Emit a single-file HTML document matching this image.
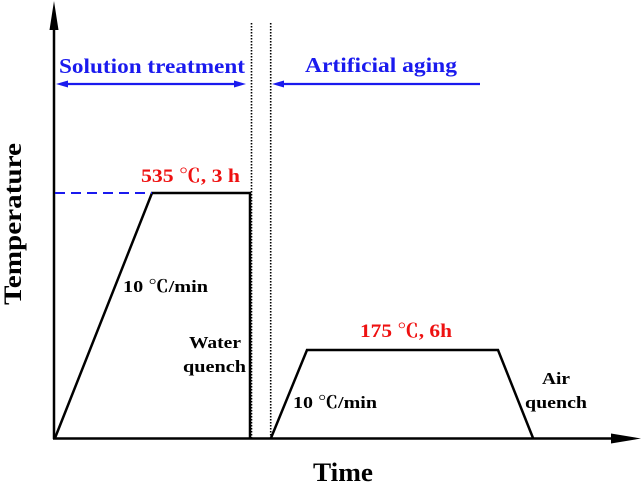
<!DOCTYPE html>
<html><head><meta charset="utf-8"><style>
html,body{margin:0;padding:0;background:#fff;}
svg{display:block;}
</style></head><body>
<svg width="641" height="483" viewBox="0 0 641 483" xmlns="http://www.w3.org/2000/svg" font-family="'Liberation Serif', 'Noto Serif CJK SC', serif" font-weight="bold">
<!-- axes -->
<line x1="54" y1="22" x2="54" y2="439" stroke="#000" stroke-width="2.5"/>
<polygon points="54,1 49.5,30 58.5,30" fill="#000"/>
<line x1="53" y1="438.5" x2="618" y2="438.5" stroke="#000" stroke-width="2.5"/>
<polygon points="641,438.5 611,433.5 611,443.5" fill="#000"/>
<!-- dotted dividers -->
<line x1="251.5" y1="23" x2="251.5" y2="438" stroke="#000" stroke-width="1.6" stroke-dasharray="1.5,1.5"/>
<line x1="270.7" y1="23" x2="270.7" y2="438" stroke="#000" stroke-width="1.6" stroke-dasharray="1.5,1.5"/>
<!-- solution profile -->
<polyline points="55,438 152,193 250,193 250,438" fill="none" stroke="#000" stroke-width="2.5"/>
<line x1="55" y1="193" x2="152" y2="193" stroke="#1a1aee" stroke-width="2" stroke-dasharray="10,6"/>
<!-- aging profile -->
<polyline points="271,438 307,350 498,350 533,438" fill="none" stroke="#000" stroke-width="2.5"/>
<!-- blue arrows -->
<line x1="62" y1="84" x2="238" y2="84" stroke="#1a1aee" stroke-width="2.2"/>
<polygon points="56,84 68,80.5 68,87.5" fill="#1a1aee"/>
<polygon points="246,84 234,80.5 234,87.5" fill="#1a1aee"/>
<line x1="280" y1="84" x2="480" y2="84" stroke="#1a1aee" stroke-width="2.2"/>
<polygon points="272,84 284,80.5 284,87.5" fill="#1a1aee"/>
<!-- labels -->
<text x="59" y="73" font-size="21" fill="#1a1aee" textLength="186" lengthAdjust="spacingAndGlyphs">Solution treatment</text>
<text x="305" y="72" font-size="21" fill="#1a1aee" textLength="152" lengthAdjust="spacingAndGlyphs">Artificial aging</text>
<text x="141" y="182" font-size="19" fill="#ee1111" textLength="99" lengthAdjust="spacingAndGlyphs">535 ℃, 3 h</text>
<text x="360" y="337" font-size="19" fill="#ee1111" textLength="92" lengthAdjust="spacingAndGlyphs">175 ℃, 6h</text>
<text x="123" y="292" font-size="17" fill="#000" textLength="85" lengthAdjust="spacingAndGlyphs">10 ℃/min</text>
<text x="293" y="408" font-size="17" fill="#000" textLength="84" lengthAdjust="spacingAndGlyphs">10 ℃/min</text>
<text x="189" y="348" font-size="17" fill="#000" textLength="52" lengthAdjust="spacingAndGlyphs">Water</text>
<text x="183" y="372" font-size="17" fill="#000" textLength="63" lengthAdjust="spacingAndGlyphs">quench</text>
<text x="542" y="384" font-size="17" fill="#000" textLength="28" lengthAdjust="spacingAndGlyphs">Air</text>
<text x="525" y="408" font-size="17" fill="#000" textLength="62" lengthAdjust="spacingAndGlyphs">quench</text>
<text x="313" y="481" font-size="26" fill="#000" textLength="60" lengthAdjust="spacingAndGlyphs">Time</text>
<text transform="translate(21,305) rotate(-90)" x="0" y="0" font-size="25" fill="#000" textLength="162" lengthAdjust="spacingAndGlyphs">Temperature</text>
</svg>
</body></html>
